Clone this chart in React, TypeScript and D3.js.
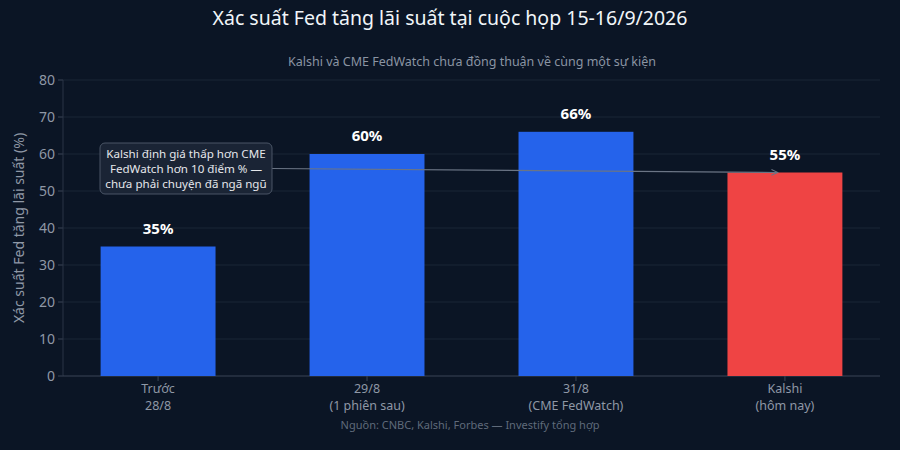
import * as d3 from "d3";

const CATEGORIES = ["Trước\n28/8", "29/8\n(1 phiên sau)", "31/8\n(CME FedWatch)", "Kalshi\n(hôm nay)"];
const VALUES = [35, 60, 66, 55];
const BAR_COLORS = ["#2563eb", "#2563eb", "#2563eb", "#ef4444"];
const Y_TICKS = [0, 10, 20, 30, 40, 50, 60, 70, 80];
const NOTE_LINES = ["Kalshi định giá thấp hơn CME", "FedWatch hơn 10 điểm % —", "chưa phải chuyện đã ngã ngũ"];

const W = 900;
const H = 450;
const M = { top: 80, right: 20, bottom: 74, left: 63 };
const FONT = "'Noto Sans', 'Open Sans', sans-serif";

export default function App() {
  const x = d3
    .scaleBand<number>()
    .domain(d3.range(CATEGORIES.length))
    .range([M.left, W - M.right])
    .paddingInner(0.45)
    .paddingOuter(0.18);
  const y = d3.scaleLinear().domain([0, 80]).range([H - M.bottom, M.top]);

  const bw = x.bandwidth();
  const cx = (i: number) => (x(i) ?? 0) + bw / 2;

  // annotation arrow points at the Kalshi bar
  const tipX = cx(3) - 7;
  const tipY = y(VALUES[3]);
  const boxX = 100;
  const boxY = 143;
  const boxW = 172;
  const boxH = 51;

  return (
    <svg
      width={W}
      height={H}
      style={{ display: "block", position: "absolute", left: 0, top: 0, background: "#0b1525" }}
      fontFamily={FONT}
    >
      <rect width={W} height={H} fill="#0b1525" />
      <text x={450} y={25} textAnchor="middle" fill="#f1f5f9" fontSize={19.5}>
        Xác suất Fed tăng lãi suất tại cuộc họp 15-16/9/2026
      </text>
      <text x={472} y={66} textAnchor="middle" fill="#8a94a3" fontSize={12.5}>
        Kalshi và CME FedWatch chưa đồng thuận về cùng một sự kiện
      </text>

      {Y_TICKS.map((t) => (
        <g key={t}>
          {t > 0 && (
            <line x1={M.left} x2={W - M.right} y1={y(t)} y2={y(t)} stroke="#1b2637" strokeWidth={1} />
          )}
          <line x1={M.left - 5} x2={M.left} y1={y(t)} y2={y(t)} stroke="#3a4556" />
          <text x={M.left - 8} y={y(t) + 5} textAnchor="end" fill="#8f98a6" fontSize={14}>
            {t}
          </text>
        </g>
      ))}
      <line x1={M.left} x2={M.left} y1={y(80)} y2={y(0)} stroke="#2a3546" />
      <line x1={M.left} x2={W - M.right} y1={y(0)} y2={y(0)} stroke="#3a4556" />

      <text
        transform={`translate(24,${(y(0) + y(80)) / 2}) rotate(-90)`}
        textAnchor="middle"
        fill="#8f98a6"
        fontSize={14}
      >
        Xác suất Fed tăng lãi suất (%)
      </text>

      {VALUES.map((v, i) => (
        <g key={i}>
          <rect x={x(i)} y={y(v)} width={bw} height={y(0) - y(v)} fill={BAR_COLORS[i]} />
          <text x={cx(i)} y={y(v) - 13} textAnchor="middle" fill="#ffffff" fontSize={15} fontWeight={700}>
            {v}%
          </text>
          <line x1={cx(i)} x2={cx(i)} y1={y(0)} y2={y(0) + 5} stroke="#3a4556" />
          {CATEGORIES[i].split("\n").map((ln, j) => (
            <text key={j} x={cx(i)} y={y(0) + 17 + j * 16.5} textAnchor="middle" fill="#8f98a6" fontSize={12.5}>
              {ln}
            </text>
          ))}
        </g>
      ))}

      <defs>
        <marker id="arr" viewBox="0 0 10 10" refX={9} refY={5} markerWidth={6} markerHeight={6} orient="auto">
          <path d="M0,1 L9,5 L0,9" fill="none" stroke="#6b7585" strokeWidth={1.5} />
        </marker>
      </defs>
      <line
        x1={boxX + boxW}
        y1={boxY + boxH / 2}
        x2={tipX}
        y2={tipY}
        stroke="#6b7585"
        strokeWidth={1.2}
        markerEnd="url(#arr)"
      />
      <rect
        x={boxX}
        y={boxY}
        width={boxW}
        height={boxH}
        rx={5}
        fill="#1c2636"
        fillOpacity={0.92}
        stroke="#4a5566"
        strokeWidth={1}
      />
      {NOTE_LINES.map((ln, j) => (
        <text key={j} x={boxX + boxW / 2} y={boxY + 15 + j * 14.8} textAnchor="middle" fill="#e5e7eb" fontSize={11.6}>
          {ln}
        </text>
      ))}

      <text x={470} y={429} textAnchor="middle" fill="#5f6a7a" fontSize={11}>
        Nguồn: CNBC, Kalshi, Forbes — Investify tổng hợp
      </text>
    </svg>
  );
}
